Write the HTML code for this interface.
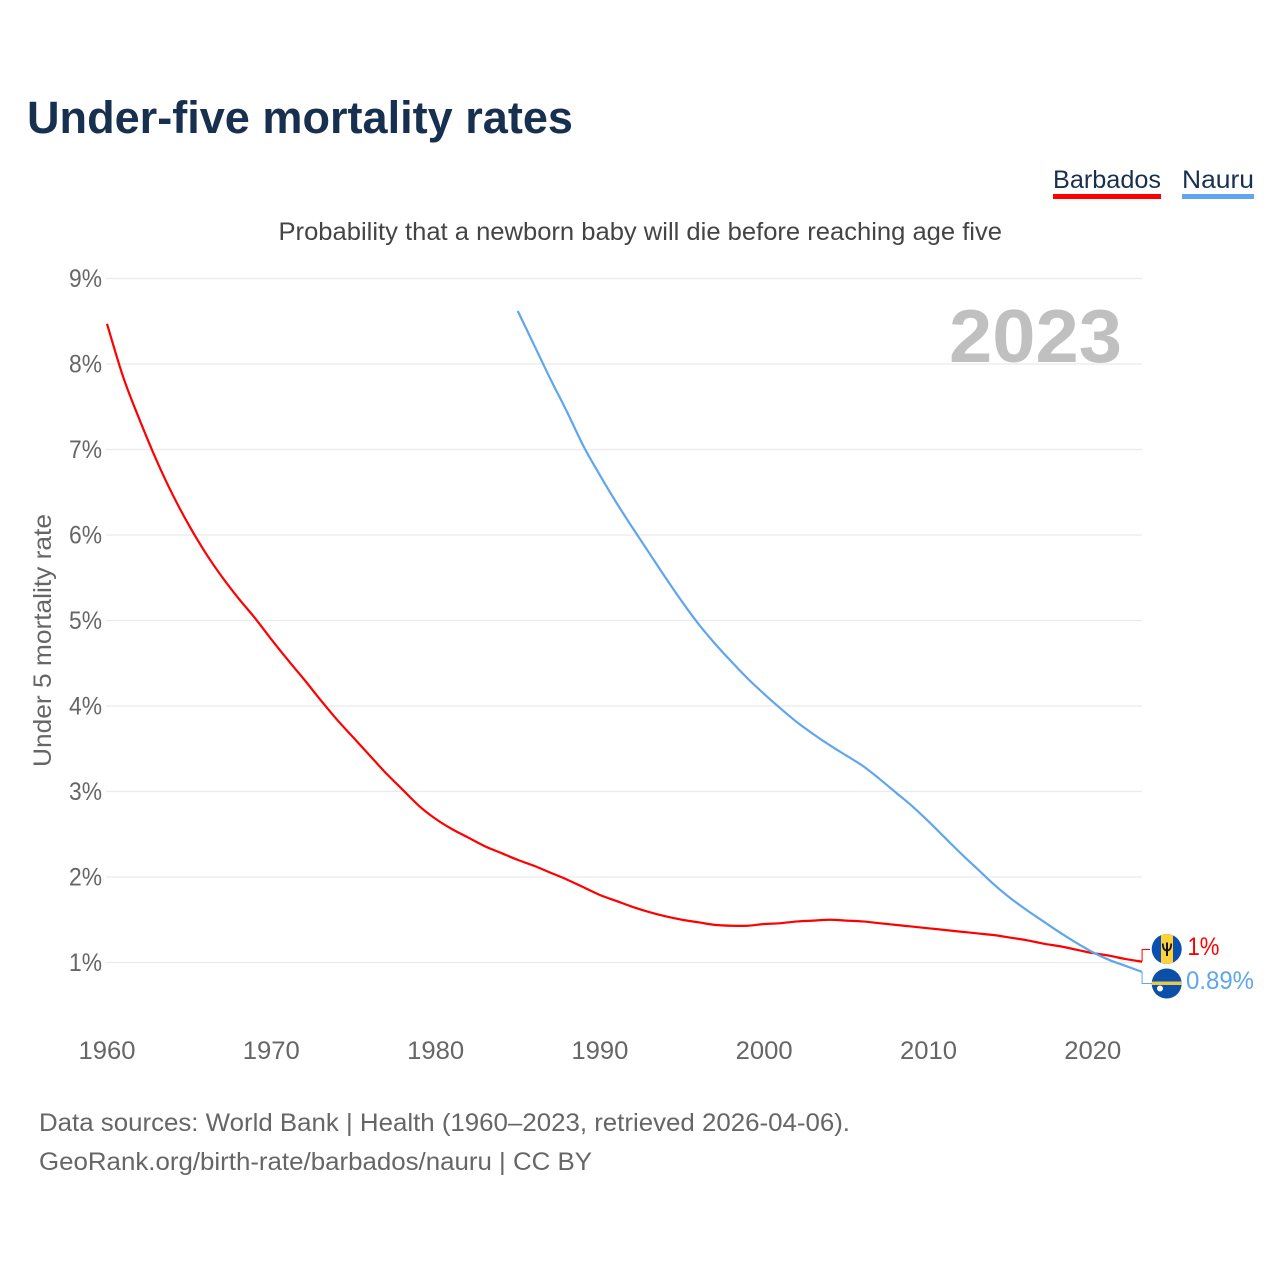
<!DOCTYPE html>
<html lang="en">
<head>
<meta charset="utf-8">
<title>Under-five mortality rates</title>
<style>
html,body{margin:0;padding:0;background:#fff;width:1280px;height:1280px;overflow:hidden}
svg{display:block}
text{font-family:"Liberation Sans",sans-serif}
</style>
</head>
<body>
<svg id="chart" xmlns="http://www.w3.org/2000/svg" width="1280" height="1280" viewBox="0 0 1280 1280">
  <defs>
    <clipPath id="clip-barbados"><circle cx="1166.7" cy="949" r="15"/></clipPath>
    <clipPath id="clip-nauru"><circle cx="1166.7" cy="983.5" r="15"/></clipPath>
  </defs>
  <text x="27" y="133" font-size="45" font-weight="700" fill="#18304f" textLength="546" lengthAdjust="spacingAndGlyphs">Under-five mortality rates</text>

  <g>
    <text x="1053" y="188" font-size="25" fill="#18304f" textLength="108" lengthAdjust="spacingAndGlyphs">Barbados</text>
    <rect x="1053" y="194" width="108" height="5" fill="#ff0000"/>
  </g>
  <g>
    <text x="1182" y="188" font-size="25" fill="#18304f" textLength="72" lengthAdjust="spacingAndGlyphs">Nauru</text>
    <rect x="1182" y="194" width="72" height="5" fill="#5fa6ee"/>
  </g>

  <text x="278.5" y="240" font-size="25" fill="#444444" textLength="723.5" lengthAdjust="spacingAndGlyphs">Probability that a newborn baby will die before reaching age five</text>

  <g id="grid"></g>
  <g id="y-ticks"></g>
  <g id="x-ticks"></g>

  <text transform="translate(51,767) rotate(-90)" x="0" y="0" font-size="25" fill="#666666" textLength="253" lengthAdjust="spacingAndGlyphs">Under 5 mortality rate</text>

  <text id="year-stamp" x="949" y="362" font-size="75" font-weight="700" fill="#c0c0c0" textLength="173" lengthAdjust="spacingAndGlyphs"></text>

  <g id="series"></g>

  <g clip-path="url(#clip-barbados)">
    <rect x="1150" y="932" width="34" height="34" fill="#0b4fb0"/>
    <rect x="1161" y="932" width="12" height="34" fill="#ffd23c"/>
    <g fill="none" stroke="#111111" stroke-width="1.7">
      <path d="M1162.8 943.5c0 5 1.800 7 4.200 7s4.200-2 4.200-7"/>
      <path d="M1167 942.500V956" stroke-width="2"/>
    </g>
  </g>
  <g clip-path="url(#clip-nauru)">
    <rect x="1150" y="967" width="34" height="34" fill="#0b4fa8"/>
    <rect x="1150" y="981.500" width="34" height="3.500" fill="#e8c84a"/>
    <circle cx="1160" cy="988.500" r="3" fill="#ffffff"/>
  </g>

  <text id="label-barbados" x="1187.500" y="955" font-size="25" fill="#ff0000" textLength="32" lengthAdjust="spacingAndGlyphs"></text>
  <text id="label-nauru" x="1186" y="989" font-size="25" fill="#5fa6ee" textLength="68" lengthAdjust="spacingAndGlyphs"></text>

  <text x="39" y="1131" font-size="25" fill="#666666" textLength="811" lengthAdjust="spacingAndGlyphs">Data sources: World Bank | Health (1960–2023, retrieved 2026-04-06).</text>
  <text x="39" y="1170" font-size="25" fill="#666666" textLength="553" lengthAdjust="spacingAndGlyphs">GeoRank.org/birth-rate/barbados/nauru | CC BY</text>
</svg>

<script>
const firstYear = 1960;
const yTickValues = [1, 2, 3, 4, 5, 6, 7, 8, 9];
const xTickValues = [1960, 1970, 1980, 1990, 2000, 2010, 2020];
const stampYear = "2023";
const barbadosStart = 1960;
const barbadosValues = [8.47,7.84,7.34,6.88,6.47,6.11,5.79,5.51,5.26,5.03,4.78,4.54,4.31,4.07,3.84,3.63,3.42,3.21,3.02,2.83,2.68,2.56,2.46,2.36,2.28,2.20,2.13,2.05,1.97,1.88,1.79,1.72,1.65,1.59,1.54,1.50,1.47,1.44,1.43,1.43,1.45,1.46,1.48,1.49,1.50,1.49,1.48,1.46,1.44,1.42,1.40,1.38,1.36,1.34,1.32,1.29,1.26,1.22,1.19,1.15,1.11,1.08,1.04,1.01];
const nauruStart = 1985;
const nauruValues = [8.62,8.22,7.82,7.44,7.04,6.70,6.38,6.08,5.79,5.50,5.22,4.96,4.73,4.52,4.32,4.14,3.97,3.81,3.67,3.54,3.42,3.30,3.15,2.99,2.83,2.65,2.46,2.27,2.09,1.91,1.75,1.61,1.48,1.35,1.23,1.12,1.03,0.96,0.89];
const barbadosLabel = "1%";
const nauruLabel = "0.89%";

const NS = "http://www.w3.org/2000/svg";
function xScale(year) { return 107 + (year - firstYear) * 16.43; }
function yScale(value) { return 962.5 - (value - 1) * 85.5; }
function make(tag, parent) {
  const el = document.createElementNS(NS, tag);
  parent.appendChild(el);
  return el;
}

const gridGroup = document.getElementById("grid");
const yTickGroup = document.getElementById("y-ticks");
const xTickGroup = document.getElementById("x-ticks");
const seriesGroup = document.getElementById("series");

yTickValues.forEach(function (v) {
  const line = make("line", gridGroup);
  
  
  line.setAttribute("x1", 106);
  line.setAttribute("x2", 1142);
  line.setAttribute("y1", yScale(v));
  line.setAttribute("y2", yScale(v));
  line.setAttribute("stroke", "#ebebeb");
  line.setAttribute("stroke-width", 1.3);

  const label = make("text", yTickGroup);
  
  
  label.setAttribute("x", 69);
  label.setAttribute("y", yScale(v) + 8.5);
  label.setAttribute("font-size", 25);
  label.setAttribute("fill", "#666666");
  label.setAttribute("textLength", 33);
  label.setAttribute("lengthAdjust", "spacingAndGlyphs");
  label.textContent = v + "%";
});

xTickValues.forEach(function (year) {
  const label = make("text", xTickGroup);
  
  
  label.setAttribute("x", xScale(year) - 28.5);
  label.setAttribute("y", 1059);
  label.setAttribute("font-size", 25);
  label.setAttribute("fill", "#666666");
  label.setAttribute("textLength", 57);
  label.setAttribute("lengthAdjust", "spacingAndGlyphs");
  label.textContent = String(year);
});

function curvePath(start, values) {
  const pts = values.map(function (v, i) {
    return [xScale(start + i), yScale(v)];
  });
  let d = "M" + pts[0][0].toFixed(2) + " " + pts[0][1].toFixed(2);
  for (let i = 0; i < pts.length - 1; i++) {
    const p0 = pts[Math.max(i - 1, 0)];
    const p1 = pts[i];
    const p2 = pts[i + 1];
    const p3 = pts[Math.min(i + 2, pts.length - 1)];
    const c1x = p1[0] + (p2[0] - p0[0]) / 6;
    const c1y = p1[1] + (p2[1] - p0[1]) / 6;
    const c2x = p2[0] - (p3[0] - p1[0]) / 6;
    const c2y = p2[1] - (p3[1] - p1[1]) / 6;
    d += "C" + c1x.toFixed(2) + " " + c1y.toFixed(2) + " " + c2x.toFixed(2) + " " + c2y.toFixed(2) + " " + p2[0].toFixed(2) + " " + p2[1].toFixed(2);
  }
  return d;
}

const barbadosLine = make("path", seriesGroup);


barbadosLine.setAttribute("d", curvePath(barbadosStart, barbadosValues));
barbadosLine.setAttribute("fill", "none");
barbadosLine.setAttribute("stroke", "#ff0000");
barbadosLine.setAttribute("stroke-width", 2.2);
barbadosLine.setAttribute("stroke-linejoin", "round");

const nauruLine = make("path", seriesGroup);


nauruLine.setAttribute("d", curvePath(nauruStart, nauruValues));
nauruLine.setAttribute("fill", "none");
nauruLine.setAttribute("stroke", "#5fa6ee");
nauruLine.setAttribute("stroke-width", 2.2);
nauruLine.setAttribute("stroke-linejoin", "round");

const barbadosEndYear = barbadosStart + barbadosValues.length - 1;
const barbadosEndValue = barbadosValues[barbadosValues.length - 1];
const barbadosConnector = make("polyline", seriesGroup);


barbadosConnector.setAttribute("points",
  xScale(barbadosEndYear) + "," + yScale(barbadosEndValue) + " " + xScale(barbadosEndYear) + ",949.5 1150,949.5");
barbadosConnector.setAttribute("fill", "none");
barbadosConnector.setAttribute("stroke", "#ff0000");
barbadosConnector.setAttribute("stroke-width", 1);

const nauruEndYear = nauruStart + nauruValues.length - 1;
const nauruEndValue = nauruValues[nauruValues.length - 1];
const nauruConnector = make("polyline", seriesGroup);


nauruConnector.setAttribute("points",
  xScale(nauruEndYear) + "," + yScale(nauruEndValue) + " " + xScale(nauruEndYear) + ",983.5 1152,983.5");
nauruConnector.setAttribute("fill", "none");
nauruConnector.setAttribute("stroke", "#5fa6ee");
nauruConnector.setAttribute("stroke-width", 1);

document.getElementById("year-stamp").textContent = stampYear;
document.getElementById("label-barbados").textContent = barbadosLabel;
document.getElementById("label-nauru").textContent = nauruLabel;
</script>
</body>
</html>
